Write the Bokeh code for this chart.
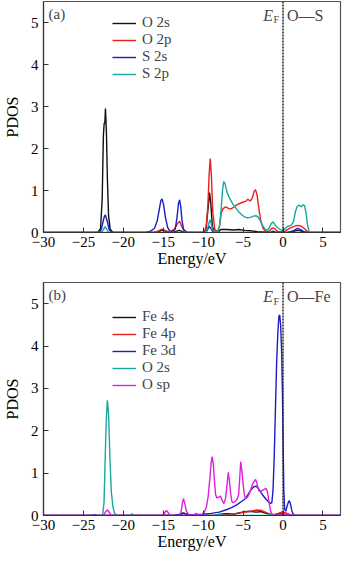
from bokeh.plotting import figure
from bokeh.layouts import column
from bokeh.models import Legend, LegendItem, Span, Label, FixedTicker, Range1d
from bokeh.embed import file_html
from bokeh.resources import INLINE

FONT = "Liberation Serif"

# ---------------- data ----------------
x_ticks = [-30, -25, -20, -15, -10, -5, 0, 5]
x_tick_labels = ["\u221230", "\u221225", "\u221220", "\u221215", "\u221210", "\u22125", "0", "5"]
y_ticks = [0, 1, 2, 3, 4, 5]
y_tick_labels = ["0", "1", "2", "3", "4", "5"]

# panel (a): O-S
a_names = ["O 2s", "O 2p", "S 2s", "S 2p"]
o2s_a = [(-30, 0), (-23.2, 0), (-22.85, 0.1), (-22.65, 0.8), (-22.5, 2.3), (-22.4, 2.6), (-22.32, 2.6),
         (-22.24, 2.95), (-22.12, 2.4), (-22.0, 1.3), (-21.85, 0.4), (-21.65, 0.08), (-21.3, 0), (-16.2, 0),
         (-15.5, 0.03), (-15.1, 0.06), (-14.7, 0.03), (-14.1, 0), (-13.5, 0.02), (-13.0, 0.05), (-12.6, 0.02),
         (-12.1, 0), (-10.0, 0), (-9.65, 0.08), (-9.4, 0.55), (-9.2, 0.95), (-9.05, 0.7), (-8.85, 0.15),
         (-8.55, 0.02), (-8.2, 0), (-7.8, 0.07), (-7.0, 0.07), (-6.2, 0.06), (-5.5, 0.07), (-4.8, 0.05),
         (-4.0, 0.04), (-3.2, 0.02), (-2.2, 0.01), (-1.0, 0), (0.5, 0), (1.3, 0.03), (1.9, 0.05), (2.5, 0.02),
         (3.2, 0), (7.2, 0)]
o2p_a = [(-30, 0), (-16.2, 0), (-15.6, 0.04), (-15.15, 0.08), (-14.7, 0.04), (-14.1, 0.02), (-13.6, 0.08),
         (-13.25, 0.2), (-12.95, 0.27), (-12.7, 0.15), (-12.4, 0.04), (-11.9, 0), (-9.9, 0), (-9.6, 0.15),
         (-9.4, 0.7), (-9.25, 1.4), (-9.12, 1.76), (-8.98, 1.4), (-8.8, 0.5), (-8.55, 0.08), (-8.25, 0.02),
         (-7.95, 0.15), (-7.75, 0.45), (-7.5, 0.57), (-7.2, 0.61), (-6.9, 0.58), (-6.55, 0.56), (-6.2, 0.6),
         (-5.85, 0.65), (-5.45, 0.69), (-5.05, 0.72), (-4.7, 0.74), (-4.4, 0.79), (-4.1, 0.75), (-3.85, 0.82),
         (-3.62, 0.98), (-3.45, 1.02), (-3.25, 0.9), (-3.05, 0.6), (-2.8, 0.3), (-2.5, 0.1), (-2.2, 0.03),
         (-1.8, 0.02), (-1.4, 0.1), (-1.1, 0.1), (-0.7, 0.03), (-0.2, 0.01), (0.3, 0.04), (0.8, 0.1),
         (1.3, 0.14), (1.8, 0.17), (2.3, 0.15), (2.7, 0.09), (3.1, 0.02), (3.4, 0), (7.2, 0)]
s2s_a = [(-30, 0), (-23.0, 0), (-22.75, 0.08), (-22.55, 0.25), (-22.38, 0.38), (-22.25, 0.42), (-22.1, 0.32),
         (-21.95, 0.22), (-21.8, 0.08), (-21.5, 0), (-17.2, 0), (-16.6, 0.03), (-16.1, 0.1), (-15.75, 0.28),
         (-15.5, 0.55), (-15.3, 0.76), (-15.15, 0.8), (-14.95, 0.65), (-14.72, 0.35), (-14.45, 0.12),
         (-14.2, 0.04), (-13.8, 0.02), (-13.5, 0.08), (-13.28, 0.35), (-13.1, 0.68), (-12.95, 0.78),
         (-12.8, 0.6), (-12.65, 0.28), (-12.45, 0.07), (-12.1, 0.01), (-11.5, 0), (-9.7, 0), (-9.45, 0.06),
         (-9.25, 0.15), (-9.05, 0.1), (-8.8, 0.02), (-8.4, 0), (-1.6, 0), (-1.25, 0.03), (-0.9, 0), (0.8, 0),
         (1.3, 0.04), (1.8, 0.1), (2.2, 0.07), (2.7, 0.01), (3.0, 0), (7.2, 0)]
s2p_a = [(-30, 0), (-22.75, 0), (-22.5, 0.07), (-22.3, 0.14), (-22.1, 0.08), (-21.85, 0), (-9.7, 0),
         (-9.45, 0.1), (-9.25, 0.25), (-9.12, 0.3), (-8.98, 0.2), (-8.8, 0.06), (-8.55, 0.02), (-8.2, 0),
         (-7.95, 0.15), (-7.75, 0.55), (-7.58, 1.0), (-7.43, 1.21), (-7.25, 1.15), (-7.0, 0.95), (-6.65, 0.8),
         (-6.3, 0.68), (-5.9, 0.58), (-5.5, 0.48), (-5.1, 0.41), (-4.8, 0.37), (-4.5, 0.35), (-4.1, 0.36),
         (-3.7, 0.39), (-3.35, 0.4), (-3.1, 0.36), (-2.85, 0.28), (-2.6, 0.18), (-2.3, 0.09), (-2.0, 0.05),
         (-1.75, 0.1), (-1.45, 0.22), (-1.25, 0.25), (-1.0, 0.18), (-0.7, 0.12), (-0.35, 0.07), (0.0, 0.05),
         (0.3, 0.1), (0.6, 0.15), (1.0, 0.17), (1.3, 0.25), (1.55, 0.5), (1.8, 0.63), (2.05, 0.65),
         (2.3, 0.61), (2.5, 0.66), (2.7, 0.64), (2.9, 0.45), (3.05, 0.2), (3.25, 0.03), (3.4, 0), (7.2, 0)]

# panel (b): O-Fe
b_names = ["Fe 4s", "Fe 4p", "Fe 3d", "O 2s", "O sp"]
fe4s_b = [(-30, 0), (-13.6, 0), (-12.9, 0.03), (-12.5, 0.06), (-12.1, 0.03), (-11.6, 0), (-8.6, 0),
          (-7.8, 0.03), (-7.0, 0.04), (-6.2, 0.03), (-5.5, 0.06), (-4.8, 0.09), (-4.1, 0.1), (-3.4, 0.08),
          (-2.8, 0.09), (-2.2, 0.06), (-1.6, 0.03), (-1.0, 0.02), (-0.5, 0.04), (0.0, 0.03), (0.5, 0.02),
          (1.0, 0), (7.2, 0)]
fe4p_b = [(-30, 0), (-8.0, 0), (-6.8, 0.02), (-5.8, 0.05), (-4.8, 0.08), (-4.0, 0.1), (-3.3, 0.13),
          (-2.7, 0.12), (-2.1, 0.07), (-1.6, 0.03), (-1.1, 0.02), (-0.6, 0.05), (-0.2, 0.08), (0.2, 0.07),
          (0.5, 0.05), (0.9, 0.02), (1.3, 0), (7.2, 0)]
fe3d_b = [(-30, 0), (-23.9, 0), (-23.6, 0.02), (-23.3, 0), (-19.2, 0), (-18.9, 0.03), (-18.6, 0),
          (-13.8, 0), (-12.9, 0.02), (-12.4, 0.05), (-11.9, 0.02), (-11.0, 0.02), (-10.0, 0.03), (-9.0, 0.05),
          (-8.0, 0.08), (-7.2, 0.13), (-6.5, 0.18), (-5.8, 0.25), (-5.2, 0.33), (-4.7, 0.4), (-4.3, 0.52),
          (-3.95, 0.62), (-3.65, 0.68), (-3.35, 0.69), (-3.05, 0.63), (-2.75, 0.54), (-2.45, 0.46),
          (-2.15, 0.39), (-1.85, 0.33), (-1.6, 0.29), (-1.4, 0.3), (-1.25, 0.6), (-1.1, 1.4), (-0.95, 2.5),
          (-0.8, 3.6), (-0.65, 4.3), (-0.52, 4.7), (-0.42, 4.74), (-0.3, 4.5), (-0.18, 3.9), (-0.07, 2.9),
          (0.02, 1.6), (0.1, 0.6), (0.2, 0.15), (0.35, 0.1), (0.55, 0.25), (0.75, 0.35), (0.9, 0.3),
          (1.1, 0.12), (1.3, 0.02), (1.5, 0), (7.2, 0)]
o2s_b = [(-30, 0), (-22.6, 0), (-22.42, 0.3), (-22.28, 1.3), (-22.15, 2.2), (-22.0, 2.72), (-21.85, 2.4),
         (-21.67, 1.3), (-21.5, 0.55), (-21.3, 0.2), (-21.1, 0.05), (-20.8, 0), (-19.2, 0), (-18.9, 0.03),
         (-18.6, 0), (-8.5, 0), (-8.0, 0.03), (-7.5, 0), (-2.0, 0), (-1.6, 0.03), (-1.2, 0), (7.2, 0)]
osp_b = [(-30, 0), (-22.5, 0), (-22.25, 0.08), (-22.0, 0.13), (-21.75, 0.07), (-21.5, 0), (-15.1, 0),
         (-14.85, 0.06), (-14.6, 0.12), (-14.35, 0.06), (-14.1, 0), (-12.95, 0), (-12.75, 0.1), (-12.6, 0.3),
         (-12.47, 0.4), (-12.3, 0.28), (-12.1, 0.1), (-11.8, 0.02), (-11.2, 0), (-10.9, 0.05), (-10.6, 0.01),
         (-10.2, 0.02), (-9.85, 0.08), (-9.6, 0.2), (-9.37, 0.46), (-9.15, 0.9), (-9.0, 1.25), (-8.87, 1.39),
         (-8.73, 1.2), (-8.6, 0.85), (-8.45, 0.5), (-8.3, 0.42), (-8.05, 0.43), (-7.83, 0.46), (-7.6, 0.35),
         (-7.4, 0.28), (-7.2, 0.4), (-7.0, 0.75), (-6.85, 1.02), (-6.7, 0.8), (-6.55, 0.5), (-6.4, 0.33),
         (-6.25, 0.3), (-6.0, 0.33), (-5.75, 0.38), (-5.55, 0.5), (-5.42, 0.9), (-5.3, 1.27), (-5.15, 1.05),
         (-5.0, 0.75), (-4.85, 0.5), (-4.7, 0.4), (-4.5, 0.42), (-4.3, 0.48), (-4.1, 0.58), (-3.9, 0.7),
         (-3.65, 0.8), (-3.44, 0.85), (-3.3, 0.78), (-3.15, 0.66), (-3.0, 0.58), (-2.86, 0.56), (-2.7, 0.58),
         (-2.51, 0.6), (-2.3, 0.62), (-2.13, 0.64), (-1.98, 0.58), (-1.85, 0.45), (-1.7, 0.25), (-1.55, 0.1),
         (-1.35, 0), (-0.5, 0), (0.3, 0.03), (0.6, 0.04), (1.0, 0), (7.2, 0)]

a_series = [o2s_a, o2p_a, s2s_a, s2p_a]
b_series = [fe4s_b, fe4p_b, fe3d_b, o2s_b, osp_b]
a_colors = ["#111111", "#e8201e", "#1c1cc8", "#18a89e"]
b_colors = ["#111111", "#e8201e", "#1c1cc8", "#18a89e", "#e11ee1"]


def make_fig(height, top, bottom):
    p = figure(width=344, height=height, x_range=Range1d(-30, 7.2), y_range=Range1d(0, 5.5),
               output_backend="svg", toolbar_location=None,
               min_border_left=36, min_border_right=4, min_border_top=top, min_border_bottom=bottom)
    p.grid.visible = False
    p.outline_line_color = "#555555"
    p.outline_line_width = 1.2
    p.background_fill_color = "white"
    p.border_fill_color = "white"
    for ax in (p.xaxis[0], p.yaxis[0]):
        ax.axis_line_color = "#333333"
        ax.axis_line_width = 1.2
        ax.major_tick_in = 5
        ax.major_tick_out = 0
        ax.major_tick_line_color = "#333333"
        ax.minor_tick_line_color = None
        ax.major_label_text_font = FONT
        ax.major_label_text_font_size = "15px"
        ax.major_label_text_color = "black"
        ax.axis_label_text_font = FONT
        ax.axis_label_text_font_size = "16px"
        ax.axis_label_text_font_style = "normal"
        ax.axis_label_text_color = "black"
    p.xaxis.ticker = FixedTicker(ticks=x_ticks)
    p.xaxis.major_label_overrides = dict(zip(x_ticks, x_tick_labels))
    p.yaxis.ticker = FixedTicker(ticks=y_ticks)
    p.yaxis.major_label_overrides = dict(zip(y_ticks, y_tick_labels))
    p.xaxis.axis_label = "Energy/eV"
    p.yaxis.axis_label = "PDOS"
    p.xaxis.major_label_standoff = 4
    p.xaxis.axis_label_standoff = 0
    p.yaxis.major_label_standoff = 5
    p.yaxis.axis_label_standoff = 7
    p.add_layout(Span(location=0, dimension="height", line_color="#222222",
                      line_dash="2 1", line_width=1.5))
    return p


def add_series(p, series, names, colors, legend_loc):
    items = []
    for pts, name, col in zip(series, names, colors):
        xs = [q[0] for q in pts]
        ys = [q[1] for q in pts]
        r = p.line(xs, ys, line_color=col, line_width=1.4)
        items.append(LegendItem(label=name, renderers=[r]))
    leg = Legend(items=items, location=legend_loc, border_line_color=None,
                 background_fill_alpha=0, padding=0, margin=0, spacing=0,
                 label_height=16, glyph_height=16, glyph_width=24, label_standoff=6,
                 label_text_font=FONT, label_text_font_size="15px")
    p.add_layout(leg, "center")


def add_texts(p, tag, pair):
    p.add_layout(Label(x=-30, y=5.2, x_offset=5, text=tag, text_font=FONT, text_font_size="15px",
                       text_align="left", text_baseline="middle"))
    p.add_layout(Label(x=0, y=5.17, x_offset=-10, text="E", text_font=FONT, text_font_size="16px",
                       text_font_style="italic", text_align="right", text_baseline="middle"))
    p.add_layout(Label(x=0, y=5.06, x_offset=-4, text="F", text_font=FONT, text_font_size="10px",
                       text_align="right", text_baseline="middle"))
    p.add_layout(Label(x=0, y=5.17, x_offset=4, text=pair, text_font=FONT, text_font_size="16px",
                       text_align="left", text_baseline="middle"))


pa = make_fig(272, 1, 40)
add_series(pa, a_series, a_names, a_colors, (69, 150))
add_texts(pa, "(a)", "O\u2014S")

pb = make_fig(281, 10, 38)
add_series(pb, b_series, b_names, b_colors, (69, 122))
add_texts(pb, "(b)", "O\u2014Fe")

layout = column(pa, pb, spacing=0)
open("out.html", "w").write(file_html(layout, INLINE))
